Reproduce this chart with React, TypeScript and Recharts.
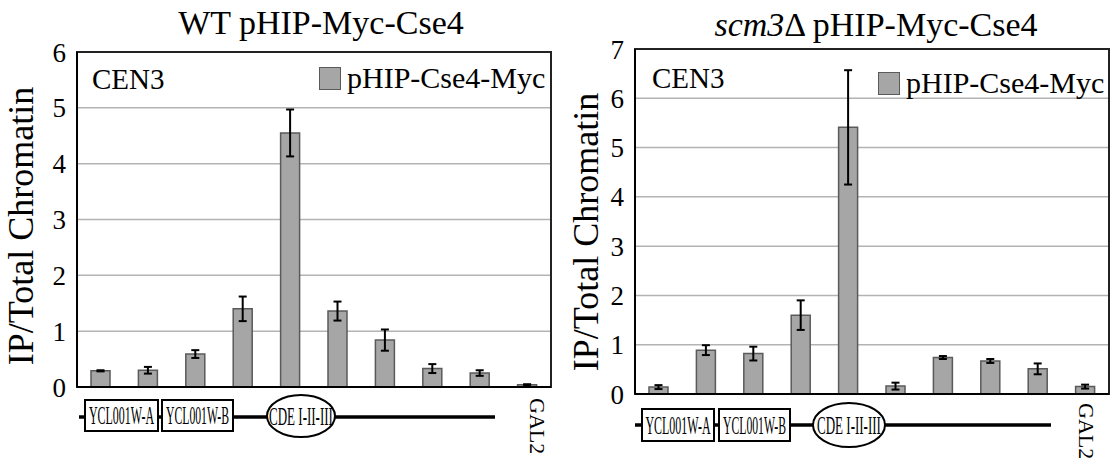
import React from 'react';
import { BarChart, Bar, XAxis, YAxis, CartesianGrid, ErrorBar, ReferenceArea, Legend } from 'recharts';

// ---------- data ----------
const categories = ['1', '2', '3', '4', '5', '6', '7', '8', '9', 'GAL2'];
const tickLabels = ['', '', '', '', '', '', '', '', '', 'GAL2'];
const seriesName = 'pHIP-Cse4-Myc';

const wtValues = [0.29, 0.30, 0.59, 1.40, 4.55, 1.36, 0.84, 0.33, 0.25, 0.04];
const wtErrors = [0.01, 0.06, 0.07, 0.22, 0.42, 0.17, 0.19, 0.08, 0.05, 0.01];
const wtTicks = [0, 1, 2, 3, 4, 5, 6];

const scmValues = [0.14, 0.89, 0.82, 1.60, 5.41, 0.16, 0.74, 0.67, 0.51, 0.15];
const scmErrors = [0.04, 0.10, 0.14, 0.30, 1.16, 0.07, 0.03, 0.04, 0.11, 0.04];
const scmTicks = [0, 1, 2, 3, 4, 5, 6, 7];

const geneLabels = ['YCL001W-A', 'YCL001W-B', 'CDE I-II-III'];
const regionLabel = 'CEN3';
const yTitle = 'IP/Total Chromatin';

const FONT = 'Liberation Serif';
const BAR_FILL = '#a6a6a6';
const BAR_STROKE = '#5a5a5a';

const build = (vals: number[], errs: number[]) =>
  categories.map((c, i) => ({ cat: c, value: vals[i], err: errs[i] }));

const XTick = (props: any) => {
  const { x, y, payload, offX, offY } = props;
  const idx = categories.indexOf(payload?.value);
  const label = tickLabels[idx];
  if (!label) return null;
  return (
    <text
      transform={`translate(${x + offX},${y + offY}) rotate(90)`}
      style={{ fontFamily: FONT, fontSize: 22 }}
      fill="#000"
      textAnchor="start"
    >
      {label}
    </text>
  );
};

const YTitle = (props: any) => {
  const { lx, ly } = props;
  return (
    <text
      transform={`translate(${lx},${ly}) rotate(-90)`}
      style={{ fontFamily: FONT, fontSize: 36 }}
      fill="#000"
      textAnchor="middle"
    >
      {yTitle}
    </text>
  );
};

const Condensed = ({ cx, cy, text, scale, size }: { cx: number; cy: number; text: string; scale: number; size: number }) => (
  <text
    transform={`translate(${cx},${cy}) scale(${scale},1)`}
    textAnchor="middle"
    style={{ fontFamily: FONT, fontSize: size }}
    fill="#000"
  >
    {text}
  </text>
);

type Geo = {
  left: number;
  width: number;
  margin: { top: number; right: number; bottom: number; left: number };
  yAxisWidth: number;
  xAxisHeight: number;
  max: number;
  ticks: number[];
  galOff: [number, number];
  yLabel: [number, number];
  title: [number, number];
  cen: [number, number];
  legend: [number, number];
  line: [number, number, number];
  boxA: [number, number, number, number];
  boxB: [number, number, number, number];
  ell: [number, number, number, number];
};

const Panel = ({ geo, data, title }: { geo: Geo; data: any[]; title: React.ReactNode }) => {
  const g = geo;
  return (
    <div style={{ position: 'absolute', left: g.left, top: 0, width: g.width, height: 462 }}>
      <BarChart width={g.width} height={462} data={data} margin={g.margin} style={{ fontFamily: FONT }}>
        <CartesianGrid vertical={false} stroke="#b3b3b3" strokeWidth={1.5} />
        <XAxis
          dataKey="cat"
          height={g.xAxisHeight}
          interval={0}
          tickLine={false}
          tickSize={0}
          tickMargin={0}
          axisLine={{ stroke: '#000', strokeWidth: 2 }}
          tick={<XTick offX={g.galOff[0]} offY={g.galOff[1]} />}
        />
        <YAxis
          width={g.yAxisWidth}
          domain={[0, g.max]}
          ticks={g.ticks}
          interval={0}
          tickLine={false}
          tickSize={0}
          tickMargin={11}
          axisLine={{ stroke: '#000', strokeWidth: 2 }}
          tick={{ fontFamily: FONT, fontSize: 27, fill: '#000', style: { fontFamily: FONT } }}
          label={<YTitle lx={g.yLabel[0]} ly={g.yLabel[1]} />}
        />
        <ReferenceArea y1={0} y2={g.max} fill="none" stroke="#222" strokeWidth={2} ifOverflow="visible" />
        <Legend
          layout="vertical"
          align="center"
          verticalAlign="middle"
          wrapperStyle={{ top: g.legend[1], left: g.legend[0], width: 'auto', height: 'auto' }}
          content={(p: any) => (
            <div style={{ display: 'flex', alignItems: 'center', fontFamily: FONT, fontSize: 30, lineHeight: '30px', whiteSpace: 'nowrap', color: '#000' }}>
              <span style={{ display: 'inline-block', width: 20, height: 21, background: BAR_FILL, border: `1.5px solid ${BAR_STROKE}`, marginRight: 6 }} />
              <span>{p?.payload?.[0]?.value ?? seriesName}</span>
            </div>
          )}
        />
        <Bar dataKey="value" name={seriesName} fill={BAR_FILL} stroke={BAR_STROKE} strokeWidth={1.5} barSize={19} isAnimationActive={false}>
          <ErrorBar dataKey="err" width={4} strokeWidth={2} stroke="#000" direction="y" />
        </Bar>
      </BarChart>
      <svg width={g.width} height={462} style={{ position: 'absolute', left: 0, top: 0, pointerEvents: 'none', fontFamily: FONT }}>
        <text x={g.title[0]} y={g.title[1]} textAnchor="middle" style={{ fontFamily: FONT, fontSize: 34 }} fill="#000">
          {title}
        </text>
        <text x={g.cen[0]} y={g.cen[1]} style={{ fontFamily: FONT, fontSize: 29 }} fill="#000">
          {regionLabel}
        </text>
        <line x1={g.line[0]} y1={g.line[2]} x2={g.line[1]} y2={g.line[2]} stroke="#000" strokeWidth={3.5} />
        <rect x={g.boxA[0]} y={g.boxA[1]} width={g.boxA[2]} height={g.boxA[3]} fill="#fff" stroke="#000" strokeWidth={2} />
        <rect x={g.boxB[0]} y={g.boxB[1]} width={g.boxB[2]} height={g.boxB[3]} fill="#fff" stroke="#000" strokeWidth={2} />
        <ellipse cx={g.ell[0]} cy={g.ell[1]} rx={g.ell[2]} ry={g.ell[3]} fill="#fff" stroke="#000" strokeWidth={2} />
        <Condensed cx={g.boxA[0] + g.boxA[2] / 2} cy={g.boxA[1] + g.boxA[3] / 2 + 8.5} text={geneLabels[0]} scale={0.46} size={26} />
        <Condensed cx={g.boxB[0] + g.boxB[2] / 2} cy={g.boxB[1] + g.boxB[3] / 2 + 8.5} text={geneLabels[1]} scale={0.45} size={26} />
        <Condensed cx={g.ell[0]} cy={g.ell[1] + 8.5} text={geneLabels[2]} scale={0.5} size={26} />
      </svg>
    </div>
  );
};

const leftGeo: Geo = {
  left: 0,
  width: 560,
  margin: { top: 52, right: 9, bottom: 0, left: 0 },
  yAxisWidth: 77,
  xAxisHeight: 75,
  max: 6,
  ticks: wtTicks,
  galOff: [3, 11],
  yLabel: [33, 226],
  title: [321, 34],
  cen: [92, 89],
  legend: [319, 63],
  line: [79, 495, 417],
  boxA: [85, 400, 73, 31],
  boxB: [162, 400, 71, 31],
  ell: [301, 416, 34, 21],
};

const rightGeo: Geo = {
  left: 560,
  width: 550,
  margin: { top: 49, right: 1, bottom: 0, left: 0 },
  yAxisWidth: 75,
  xAxisHeight: 68,
  max: 7,
  ticks: scmTicks,
  galOff: [-6, 9],
  yLabel: [38, 232],
  title: [316, 36],
  cen: [92, 88],
  legend: [318, 68],
  line: [75, 491, 425],
  boxA: [82, 409, 72, 32],
  boxB: [159, 409, 71, 32],
  ell: [289, 425, 36, 22],
};

export default function App() {
  const wtData = build(wtValues, wtErrors);
  const scmData = build(scmValues, scmErrors);
  return (
    <div style={{ position: 'absolute', left: 0, top: 0, width: 1110, height: 462, background: '#fff', overflow: 'hidden', fontFamily: FONT }}>
      <Panel geo={leftGeo} data={wtData} title={<>WT pHIP-Myc-Cse4</>} />
      <Panel
        geo={rightGeo}
        data={scmData}
        title={<><tspan fontStyle="italic">scm3</tspan>Δ pHIP-Myc-Cse4</>}
      />
    </div>
  );
}
